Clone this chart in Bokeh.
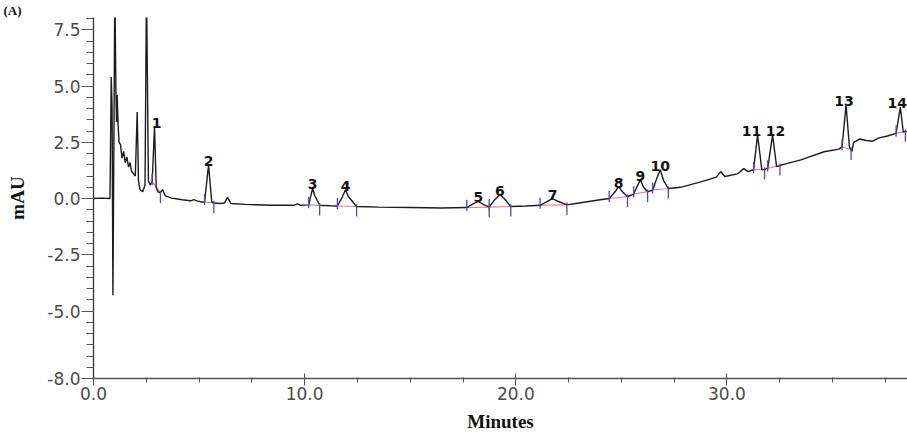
import numpy as np
from bokeh.plotting import figure
from bokeh.models import FixedTicker, PrintfTickFormatter, Range1d, Title, ColumnDataSource
from bokeh.core.properties import value
from bokeh.embed import file_html
from bokeh.resources import INLINE

# ---------------- data ----------------
time_min = [
    0.0, 0.4, 0.78, 0.84, 0.88, 0.92, 0.97, 1.01, 1.06, 1.09,
    1.12, 1.16, 1.21, 1.28, 1.35, 1.43, 1.50, 1.58, 1.66, 1.73,
    1.81, 1.90, 1.98, 2.07, 2.13, 2.20, 2.33, 2.44, 2.51, 2.60,
    2.68, 2.78, 2.89, 2.97, 3.05, 3.17, 3.27, 3.40, 3.70, 4.20,
    4.60, 4.75, 4.90, 5.10, 5.26, 5.45, 5.60, 5.70, 6.00, 6.20,
    6.35, 6.50, 7.20, 8.50, 9.50, 9.65, 9.80, 10.19, 10.30, 10.38,
    10.47, 10.71, 11.20, 11.55, 11.80, 11.94, 12.06, 12.46, 13.50, 15.00,
    16.50, 17.68, 17.95, 18.23, 18.50, 18.74, 19.00, 19.25, 19.45, 19.76,
    20.50, 21.15, 21.45, 21.74, 22.00, 22.42, 23.00, 24.00, 24.42, 24.70,
    24.87, 25.05, 25.29, 25.58, 25.75, 25.90, 26.05, 26.24, 26.48, 26.68,
    26.84, 27.00, 27.22, 27.80, 28.80, 29.50, 29.70, 29.90, 30.50, 30.80,
    31.00, 31.26, 31.45, 31.65, 31.80, 31.93, 32.16, 32.35, 32.60, 33.50,
    34.60, 35.30, 35.45, 35.64, 35.80, 35.92, 36.00, 36.30, 36.60, 36.90,
    37.20, 37.60, 38.01, 38.21, 38.35, 38.60,
]
signal_mau = [
    0.0, 0.02, 0.0, 5.4, 4.0, -4.3, 3.0, 9.5, 4.9, 3.4,
    4.6, 3.4, 2.5, 2.4, 1.8, 2.1, 1.6, 1.85, 1.4, 1.6,
    1.2, 1.1, 1.0, 3.85, 0.8, 0.4, 0.3, 0.6, 9.5, 0.8,
    0.6, 0.75, 3.2, 0.5, 0.3, 0.25, 0.4, 0.12, 0.02, -0.05,
    -0.1, -0.05, -0.1, -0.15, -0.15, 1.5, -0.15, -0.2, -0.22, -0.2,
    0.05, -0.22, -0.26, -0.3, -0.3, -0.24, -0.3, -0.28, 0.15, 0.45,
    0.15, -0.3, -0.32, -0.33, 0.1, 0.4, 0.1, -0.35, -0.38, -0.4,
    -0.42, -0.4, -0.25, -0.13, -0.28, -0.38, -0.05, 0.18, 0.0, -0.35,
    -0.33, -0.3, -0.15, 0.0, -0.12, -0.28, -0.2, -0.05, 0.0, 0.3,
    0.53, 0.3, 0.08, 0.2, 0.55, 0.83, 0.5, 0.3, 0.38, 0.9,
    1.28, 0.8, 0.45, 0.5, 0.75, 0.95, 1.2, 0.98, 1.1, 1.33,
    1.2, 1.28, 2.83, 1.28, 1.3, 1.35, 2.83, 1.42, 1.5, 1.72,
    2.08, 2.2, 2.3, 4.15, 2.3, 2.1, 2.5, 2.65, 2.58, 2.55,
    2.7, 2.78, 2.9, 4.07, 2.96, 3.0,
]

peak_ids = ["1", "2", "3", "4", "5", "6", "7", "8", "9", "10", "11", "12", "13", "14"]
peak_rt = [2.89, 5.45, 10.38, 11.94, 18.23, 19.25, 21.74, 24.87, 25.90, 26.84, 31.45, 32.16, 35.64, 38.21]
peak_height = [3.2, 1.5, 0.45, 0.4, -0.13, 0.18, 0.0, 0.53, 0.83, 1.28, 2.83, 2.83, 4.15, 4.07]
peak_start = [2.78, 5.26, 10.19, 11.55, 17.68, 18.74, 21.15, 24.42, 25.58, 26.48, 31.26, 31.93, 35.45, 38.01]
peak_end = [3.17, 5.70, 10.71, 12.46, 18.74, 19.76, 22.42, 25.29, 26.24, 27.22, 31.78, 32.51, 35.88, 38.45]

x_major_ticks = [0, 10, 20, 30]
x_minor_ticks = [0, 2.5, 5, 7.5, 10, 12.5, 15, 17.5, 20, 22.5, 25, 27.5, 30, 32.5, 35, 37.5]
y_major_ticks = [-8.0, -5.0, -2.5, 0.0, 2.5, 5.0, 7.5]
y_minor_ticks = [-8.0 + 0.5 * i for i in range(33)]

assert len(time_min) == len(signal_mau)

# ---------------- styling ----------------
label_dx = [2, 0, 0, 0, 0, 0, 0, 0, 0, 0, -6, 3, -2, -3]

p = figure(width=907, height=439,
           x_range=Range1d(0, 38.55), y_range=Range1d(-8.0, 8.05),
           output_backend="svg", toolbar_location=None,
           min_border_left=93, min_border_right=0, min_border_top=0, min_border_bottom=61,
           outline_line_color=None, background_fill_color="white", border_fill_color="white")
p.grid.visible = False

# panel tag in the top-left corner
p.add_layout(Title(text="(A)", align="left", offset=-90, standoff=0,
                   text_font="Liberation Serif", text_font_style="bold",
                   text_font_size="13px", text_color="#111111"), "above")

# integration baselines (red) below the trace
bl_s = np.interp(peak_start, time_min, signal_mau)
bl_e = np.interp(peak_end, time_min, signal_mau)
p.segment(x0=peak_start, y0=bl_s, x1=peak_end, y1=bl_e, line_color="#e36a6a", line_width=1.1, line_alpha=0.85)

# chromatogram trace
p.line(time_min, signal_mau, line_color="#1c1c1c", line_width=1.4)

# peak start / end markers
p.segment(x0=peak_start, y0=bl_s - 0.15, x1=peak_start, y1=bl_s + 0.35, line_color="#5046c8", line_width=1.3)
p.segment(x0=peak_end, y0=bl_e + 0.1, x1=peak_end, y1=bl_e - 0.45, line_color="#5046c8", line_width=1.3)

# peak labels
src = ColumnDataSource(dict(x=peak_rt, y=peak_height, t=peak_ids, dx=label_dx))
p.text(x="x", y="y", text="t", x_offset="dx", y_offset=-4, source=src,
       text_align="center", text_baseline="alphabetic",
       text_font=value("DejaVu Sans"), text_font_style="bold", text_font_size="14px",
       text_color="#111111")

# axes
xa = p.xaxis[0]
xa.ticker = FixedTicker(ticks=x_major_ticks, minor_ticks=x_minor_ticks)
xa.formatter = PrintfTickFormatter(format="%.1f")
xa.axis_label = "Minutes"
xa.axis_label_text_font = "Liberation Serif"
xa.axis_label_text_font_style = "bold"
xa.axis_label_text_font_size = "19px"
xa.axis_label_text_color = "#111111"
xa.axis_label_standoff = 8
xa.major_label_text_font = "DejaVu Sans"
xa.major_label_text_font_size = "17px"
xa.major_label_text_color = "#4a4a4a"
xa.major_label_standoff = 1
xa.axis_line_color = "#555555"
xa.axis_line_width = 1.3
xa.major_tick_line_color = "#555555"
xa.minor_tick_line_color = "#555555"
xa.major_tick_in = 5
xa.major_tick_out = 7
xa.minor_tick_in = 1
xa.minor_tick_out = 4

ya = p.yaxis[0]
ya.ticker = FixedTicker(ticks=y_major_ticks, minor_ticks=y_minor_ticks)
ya.formatter = PrintfTickFormatter(format="%.1f")
ya.axis_label = "mAU"
ya.axis_label_text_font = "Liberation Serif"
ya.axis_label_text_font_style = "bold"
ya.axis_label_text_font_size = "19px"
ya.axis_label_text_color = "#111111"
ya.axis_label_standoff = 16
ya.major_label_text_font = "DejaVu Sans"
ya.major_label_text_font_size = "17px"
ya.major_label_text_color = "#4a4a4a"
ya.major_label_standoff = 1
ya.axis_line_color = "#333333"
ya.axis_line_width = 1.3
ya.major_tick_line_color = "#555555"
ya.minor_tick_line_color = "#555555"
ya.major_tick_in = 0
ya.major_tick_out = 12
ya.minor_tick_in = 0
ya.minor_tick_out = 7

open("out.html", "w").write(file_html(p, INLINE))
